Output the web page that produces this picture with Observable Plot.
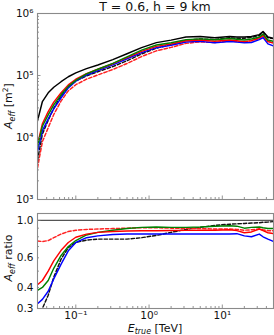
<!DOCTYPE html>
<html><head><meta charset="utf-8">
<script src="https://cdn.jsdelivr.net/npm/d3@7"></script>
<script src="https://cdn.jsdelivr.net/npm/@observablehq/plot@0.6"></script>
<style>
body{margin:0;background:#fff;}
#c{position:relative;width:274px;height:335px;font-family:"DejaVu Sans",sans-serif;overflow:hidden;}
#c svg{position:absolute;left:0;overflow:visible;}
#title{position:absolute;top:0;left:37px;width:236px;text-align:center;font-size:12.5px;line-height:13px;color:#111;white-space:nowrap;}
</style></head><body>
<div id="c"><div id="title">T = 0.6, h = 9 km</div></div>
<script>
// ---- data ----
const energy = [0.030, 0.035, 0.042, 0.050, 0.063, 0.079, 0.10, 0.14, 0.20, 0.32, 0.50, 0.79, 1.26, 2.0, 3.2, 5.0, 7.9, 12.6, 15.8, 20, 25, 32, 36, 42, 50];

// effective area [m^2], top panel
const aeffBlack       = [1.86e4, 3.8e4, 5.25e4, 6.46e4, 7.94e4, 9.55e4, 1.10e5, 1.29e5, 1.48e5, 1.80e5, 2.24e5, 2.82e5, 3.39e5, 3.72e5, 4.17e5, 4.27e5, 4.07e5, 4.27e5, 4.17e5, 4.17e5, 4.27e5, 4.57e5, 5.13e5, 4.17e5, 3.98e5];
const aeffGreen       = [7.2e3, 1.52e4, 2.31e4, 3.36e4, 4.92e4, 6.68e4, 8.34e4, 1.06e5, 1.26e5, 1.57e5, 2.00e5, 2.56e5, 3.10e5, 3.38e5, 3.79e5, 3.90e5, 3.77e5, 3.96e5, 3.85e5, 3.75e5, 3.88e5, 4.18e5, 4.65e5, 3.73e5, 3.56e5];
const aeffRed         = [7.7e3, 1.67e4, 2.62e4, 3.72e4, 5.28e4, 7.06e4, 8.71e4, 1.07e5, 1.26e5, 1.55e5, 1.94e5, 2.45e5, 2.95e5, 3.24e5, 3.64e5, 3.73e5, 3.56e5, 3.75e5, 3.63e5, 3.52e5, 3.65e5, 4.06e5, 4.47e5, 3.52e5, 3.33e5];
const aeffBlue        = [5.96e3, 1.29e4, 2.00e4, 2.90e4, 4.37e4, 6.31e4, 8.11e4, 1.02e5, 1.20e5, 1.48e5, 1.86e5, 2.34e5, 2.81e5, 3.08e5, 3.47e5, 3.55e5, 3.38e5, 3.54e5, 3.48e5, 3.37e5, 3.41e5, 3.79e5, 4.10e5, 3.23e5, 2.99e5];
const aeffBlackDashed = [4.29e3, 1.14e4, 1.89e4, 2.97e4, 4.69e4, 6.59e4, 8.11e4, 9.86e4, 1.15e5, 1.39e5, 1.73e5, 2.23e5, 2.76e5, 3.16e5, 3.69e5, 3.88e5, 3.81e5, 4.06e5, 3.98e5, 4.00e5, 4.12e5, 4.44e5, 5.00e5, 4.07e5, 3.92e5];
const aeffRedDashed   = [3.24e3, 8.55e3, 1.44e4, 2.35e4, 3.89e4, 5.66e4, 7.10e4, 8.73e4, 1.02e5, 1.25e5, 1.56e5, 2.02e5, 2.50e5, 2.84e5, 3.30e5, 3.48e5, 3.39e5, 3.61e5, 3.52e5, 3.50e5, 3.62e5, 3.94e5, 4.40e5, 3.55e5, 3.41e5];

// ratios, bottom panel
const ratioGreen       = [0.385, 0.40, 0.44, 0.52, 0.62, 0.70, 0.76, 0.82, 0.85, 0.875, 0.895, 0.91, 0.915, 0.91, 0.91, 0.915, 0.925, 0.93, 0.925, 0.90, 0.91, 0.915, 0.905, 0.895, 0.895];
const ratioRed         = [0.415, 0.44, 0.50, 0.575, 0.665, 0.74, 0.795, 0.83, 0.85, 0.86, 0.865, 0.87, 0.87, 0.872, 0.873, 0.875, 0.875, 0.88, 0.87, 0.845, 0.855, 0.89, 0.87, 0.845, 0.835];
const ratioBlue        = [0.32, 0.34, 0.38, 0.45, 0.55, 0.66, 0.74, 0.79, 0.81, 0.825, 0.83, 0.83, 0.83, 0.83, 0.832, 0.832, 0.83, 0.83, 0.835, 0.81, 0.80, 0.83, 0.80, 0.775, 0.75];
const ratioBlackDashed = [0.23, 0.30, 0.36, 0.46, 0.59, 0.69, 0.74, 0.765, 0.775, 0.775, 0.775, 0.79, 0.815, 0.85, 0.885, 0.91, 0.935, 0.95, 0.955, 0.96, 0.965, 0.97, 0.975, 0.978, 0.985];
const ratioRedDashed   = [0.755, 0.75, 0.76, 0.79, 0.83, 0.86, 0.875, 0.885, 0.89, 0.895, 0.90, 0.905, 0.905, 0.90, 0.895, 0.895, 0.89, 0.89, 0.885, 0.875, 0.88, 0.89, 0.88, 0.87, 0.87];

// ticks
const xMajor = [0.1, 1, 10];
const aeffMajor = [1e3, 1e4, 1e5, 1e6];
const ratioLabeled = [0.3, 0.4, 0.6, 1.0];
const ratioLabels = ["0.3", "0.4", "0.6", "1.0"];
const ratioMinor = [0.3, 0.4, 0.5, 0.6, 0.7, 0.8, 0.9];
const ratioMajor = [1.0];

// minor log ticks (2..9 per decade) within a domain
function minorTicks(lo, hi) {
  const out = [];
  for (let p = Math.floor(Math.log10(lo)); p <= Math.ceil(Math.log10(hi)); p++)
    for (let m = 2; m <= 9; m++) { const v = m * Math.pow(10, p); if (v >= lo * 0.999 && v <= hi * 1.001) out.push(v); }
  return out;
}
const xMinor = minorTicks(0.03, 50);
const aeffMinor = minorTicks(1e3, 1e6);

const supMap = {"-":"⁻","0":"⁰","1":"¹","2":"²","3":"³","4":"⁴","5":"⁵","6":"⁶","7":"⁷","8":"⁸","9":"⁹"};
const pow10 = d => "10" + String(Math.round(Math.log10(d))).split("").map(c => supMap[c]).join("");

const rows = arr => energy.map((e, i) => ({e, v: arr[i]}));

const W = 274, ML = 37, MR = 1;
const plotW = W - ML - MR;
const FRAME = "#8a8a8a", TICK = "#777", TXT = "#111";
const LW = 1.45, DASH = "3.4,2";

const container = document.getElementById("c");

// ---- top panel ----
const H1 = 200, MT1 = 13, MB1 = 1, plotH1 = H1 - MT1 - MB1;
const topSeries = [
  {a: aeffRedDashed, c: "#ff2020", d: DASH},
  {a: aeffBlackDashed, c: "#111", d: DASH},
  {a: aeffBlue, c: "blue", d: null},
  {a: aeffRed, c: "red", d: null},
  {a: aeffGreen, c: "green", d: null},
  {a: aeffBlack, c: "black", d: null}
];
const topChart = Plot.plot({
  width: W, height: H1, marginTop: MT1, marginBottom: MB1, marginLeft: ML, marginRight: MR,
  style: {fontFamily: "DejaVu Sans, sans-serif", fontSize: "10px", background: "transparent", color: TXT, overflow: "visible"},
  x: {type: "log", domain: [0.03, 50], axis: null},
  y: {type: "log", domain: [1e3, 1e6], axis: null},
  marks: [
    ...topSeries.map(s => Plot.line(rows(s.a), {x: "e", y: "v", stroke: s.c, strokeWidth: LW, strokeDasharray: s.d, clip: true})),
    Plot.tickY(aeffMinor, {y: d => d, insetRight: plotW - 2, stroke: TICK, strokeWidth: 0.8}),
    Plot.tickY(aeffMajor, {y: d => d, insetRight: plotW - 3.5, stroke: TICK, strokeWidth: 0.8}),
    Plot.tickX(xMinor, {x: d => d, insetTop: plotH1 - 2, stroke: TICK, strokeWidth: 0.8}),
    Plot.tickX(xMajor, {x: d => d, insetTop: plotH1 - 3.5, stroke: TICK, strokeWidth: 0.8}),
    Plot.text(aeffMajor, {y: d => d, text: pow10, frameAnchor: "left", textAnchor: "end", dx: -4, fontSize: 10.5, fill: TXT}),
    Plot.frame({stroke: FRAME, strokeWidth: 1.1})
  ]
});
topChart.style.top = "0px";
container.appendChild(topChart);

// ---- bottom panel ----
const H2 = 135, MT2 = 13, MB2 = 27, plotH2 = H2 - MT2 - MB2;
const ratioSeries = [
  {a: ratioBlackDashed, c: "#111", d: DASH},
  {a: ratioRedDashed, c: "#ff2020", d: DASH},
  {a: ratioBlue, c: "blue", d: null},
  {a: ratioGreen, c: "green", d: null},
  {a: ratioRed, c: "red", d: null}
];
const bottomChart = Plot.plot({
  width: W, height: H2, marginTop: MT2, marginBottom: MB2, marginLeft: ML, marginRight: MR,
  style: {fontFamily: "DejaVu Sans, sans-serif", fontSize: "10px", background: "transparent", color: TXT, overflow: "visible"},
  x: {type: "log", domain: [0.03, 50], axis: null},
  y: {type: "log", domain: [0.3, 1.1], axis: null},
  marks: [
    Plot.ruleY([1.0], {stroke: "#555", strokeWidth: 1.3}),
    ...ratioSeries.map(s => Plot.line(rows(s.a), {x: "e", y: "v", stroke: s.c, strokeWidth: LW, strokeDasharray: s.d, clip: true})),
    Plot.tickY(ratioMinor, {y: d => d, insetRight: plotW - 2, stroke: TICK, strokeWidth: 0.8}),
    Plot.tickY(ratioMajor, {y: d => d, insetRight: plotW - 3.5, stroke: TICK, strokeWidth: 0.8}),
    Plot.tickX(xMinor, {x: d => d, insetTop: plotH2 - 2, stroke: TICK, strokeWidth: 0.8}),
    Plot.tickX(xMajor, {x: d => d, insetTop: plotH2 - 3.5, stroke: TICK, strokeWidth: 0.8}),
    Plot.text(ratioLabeled, {y: d => d, text: (d, i) => ratioLabels[i], frameAnchor: "left", textAnchor: "end", dx: -4, fontSize: 10.5, fill: TXT}),
    Plot.text(xMajor, {x: d => d, text: pow10, frameAnchor: "bottom", lineAnchor: "top", dy: 3, fontSize: 10.5, fill: TXT}),
    Plot.frame({stroke: FRAME, strokeWidth: 1.1})
  ]
});
bottomChart.style.top = "200px";
container.appendChild(bottomChart);

// ---- axis titles with sub/superscripts ----
function aeffLabel(svg, x, y, rest, sup) {
  const t = d3.select(svg).append("text")
    .attr("transform", `translate(${x},${y}) rotate(-90)`)
    .attr("text-anchor", "middle").attr("font-size", 11).attr("fill", TXT)
    .attr("font-family", "DejaVu Sans, sans-serif");
  t.append("tspan").attr("font-style", "italic").text("A");
  t.append("tspan").attr("font-style", "italic").attr("font-size", 8).attr("dy", 2.5).text("eff");
  t.append("tspan").attr("dy", -2.5).text(rest);
  if (sup) {
    t.append("tspan").attr("font-size", 7.5).attr("dy", -4).text(sup);
    t.append("tspan").attr("dy", 4).text("]");
  }
}
aeffLabel(topChart, 12, 106, " [m", "2");
aeffLabel(bottomChart, 12, 58, " ratio", null);

const xl = d3.select(bottomChart).append("text")
  .attr("x", 155).attr("y", 131.5).attr("text-anchor", "middle")
  .attr("font-size", 11).attr("fill", TXT).attr("font-family", "DejaVu Sans, sans-serif");
xl.append("tspan").attr("font-style", "italic").text("E");
xl.append("tspan").attr("font-style", "italic").attr("font-size", 8).attr("dy", 2.5).text("true");
xl.append("tspan").attr("dy", -2.5).text(" [TeV]");
</script>
</body></html>
